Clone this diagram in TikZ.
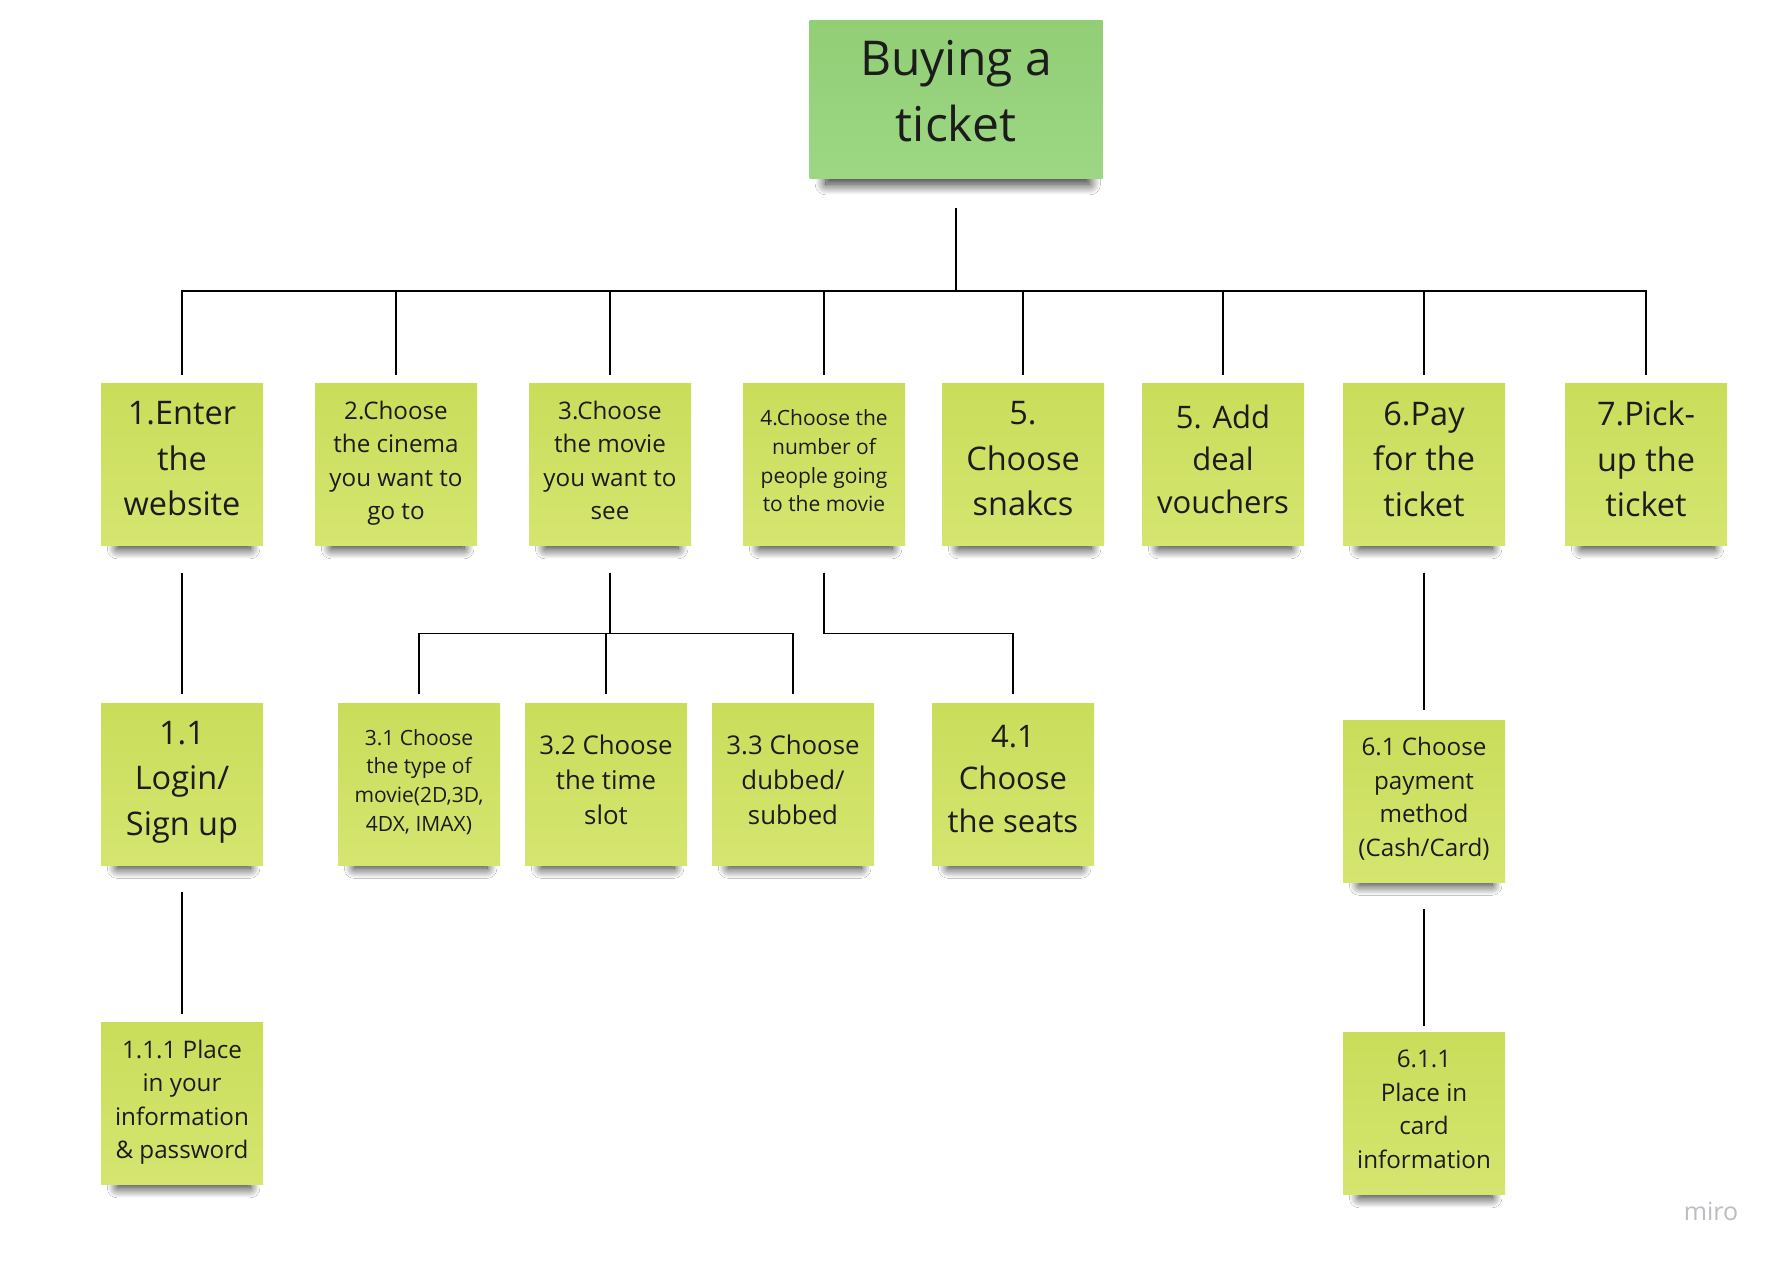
\documentclass[tikz,border=0pt]{standalone}
\usepackage{fontspec}
\setmainfont{Open Sans}
\usetikzlibrary{positioning,shadows.blur}

\definecolor{notetop}{RGB}{202,221,90}
\definecolor{notebot}{RGB}{213,229,112}
\definecolor{roottop}{RGB}{145,206,117}
\definecolor{rootbot}{RGB}{157,215,131}
\definecolor{inkcol}{RGB}{28,28,28}
\definecolor{brandcol}{RGB}{188,188,196}

\begin{document}
\begin{tikzpicture}
[every node/.style={inner sep=0pt,outer sep=0pt,text=inkcol,align=center},
 sticky/.style={rectangle,top color=notetop,bottom color=notebot},
 noteshade/.style={blur shadow={shadow xshift=2pt,shadow yshift=-22pt,shadow scale=0.82,
   shadow blur radius=12pt,shadow blur steps=20,shadow opacity=85}},
 topicshade/.style={blur shadow={shadow xshift=2pt,shadow yshift=-15.5pt,shadow scale=0.9,
   shadow blur radius=12pt,shadow blur steps=20,shadow opacity=85}},
 note/.style={sticky,noteshade,minimum width=162pt,minimum height=162pt},
 topic/.style={sticky,topicshade,minimum width=293pt,minimum height=158pt,
   top color=roottop,bottom color=rootbot,font=\fontsize{48}{66}\selectfont,text depth=17pt},
 hugetxt/.style={font=\fontsize{32.5}{45.5}\selectfont,text depth=11.5pt},
 largetxt/.style={font=\fontsize{31}{42.5}\selectfont,text depth=11pt},
 midtxt/.style={font=\fontsize{25.8}{35.2}\selectfont,text depth=9pt},
 plaintxt/.style={font=\fontsize{24.2}{33.5}\selectfont,text depth=8.5pt},
 tinytxt/.style={font=\fontsize{21}{28.8}\selectfont,text depth=7.5pt},
 link/.style={draw=black,line width=1.7pt,shorten <=27pt,shorten >=9pt}]

\useasboundingbox[fill=white] (0,0) rectangle (1783pt,-1261pt);

\node[topic] (root) at (956pt,-99pt) {Buying a\\ticket};

% first level
\node[note,hugetxt]  (n1)  [on grid,below left=365.5pt and 774pt of root] {1.Enter\\the\\website};
\node[note,plaintxt] (n2)  [on grid,right=214pt of n1]  {2.Choose\\the cinema\\you want to\\go to};
\node[note,plaintxt] (n3)  [on grid,right=214pt of n2]  {3.Choose\\the movie\\you want to\\see};
\node[note,tinytxt]  (n4)  [on grid,right=214pt of n3]  {4.Choose the\\number of\\people going\\to the movie};
\node[note,hugetxt]  (n5)  [on grid,right=199pt of n4]  {5.\\Choose\\snakcs};
\node[note,largetxt] (n5b) [on grid,right=200pt of n5]  {5. Add\\deal\\vouchers};
\node[note,hugetxt]  (n6)  [on grid,right=201pt of n5b] {6.Pay\\for the\\ticket};
\node[note,hugetxt]  (n7)  [on grid,right=222pt of n6]  {7.Pick-\\up the\\ticket};

% second level
\node[note,hugetxt]  (n11) [on grid,below=319.5pt of n1] {1.1\\Login/\\Sign up};
\node[note,tinytxt]  (n31) [on grid,below left=319.5pt and 191pt of n3] {3.1 Choose\\the type of\\movie(2D,3D,\\4DX, IMAX)};
\node[note,midtxt]   (n32) [on grid,below left=319.5pt and 4pt of n3]   {3.2 Choose\\the time\\slot};
\node[note,midtxt]   (n33) [on grid,below right=319.5pt and 183pt of n3] {3.3 Choose\\dubbed/\\subbed};
\node[note,largetxt] (n41) [on grid,below right=319.5pt and 189pt of n4] {4.1\\Choose\\the seats};
\node[note,plaintxt] (n61) [on grid,below=336.5pt of n6] {6.1 Choose\\payment\\method\\(Cash/Card)};

% third level
\node[note,plaintxt] (n111) [on grid,below=319.5pt of n11] {1.1.1 Place\\in your\\information\\\& password};
\node[note,plaintxt] (n611) [on grid,below=312.5pt of n61] {6.1.1\\Place in\\card\\information};

\draw[link,shorten <=30pt] (root.south) -- ++(0,-113pt) -| (n1.north);
\draw[link,shorten <=30pt] (root.south) -- ++(0,-113pt) -| (n2.north);
\draw[link,shorten <=30pt] (root.south) -- ++(0,-113pt) -| (n3.north);
\draw[link,shorten <=30pt] (root.south) -- ++(0,-113pt) -| (n4.north);
\draw[link,shorten <=30pt] (root.south) -- ++(0,-113pt) -| (n5.north);
\draw[link,shorten <=30pt] (root.south) -- ++(0,-113pt) -| (n5b.north);
\draw[link,shorten <=30pt] (root.south) -- ++(0,-113pt) -| (n6.north);
\draw[link,shorten <=30pt] (root.south) -- ++(0,-113pt) -| (n7.north);

\draw[link] (n1.south) -- (n11.north);
\draw[link] (n3.south) -- ++(0,-88pt) -| (n31.north);
\draw[link] (n3.south) -- ++(0,-88pt) -| (n32.north);
\draw[link] (n3.south) -- ++(0,-88pt) -| (n33.north);
\draw[link] (n4.south) -- ++(0,-88pt) -| (n41.north);
\draw[link,shorten >=10pt] (n6.south) -- (n61.north);
\draw[link] (n11.south) -- (n111.north);
\draw[link,shorten >=7pt] (n61.south) -- (n611.north);

\node[text=brandcol,font=\fontsize{25}{25}\selectfont] (brand) at (1711pt,-1211pt) {miro};
\end{tikzpicture}
\end{document}
